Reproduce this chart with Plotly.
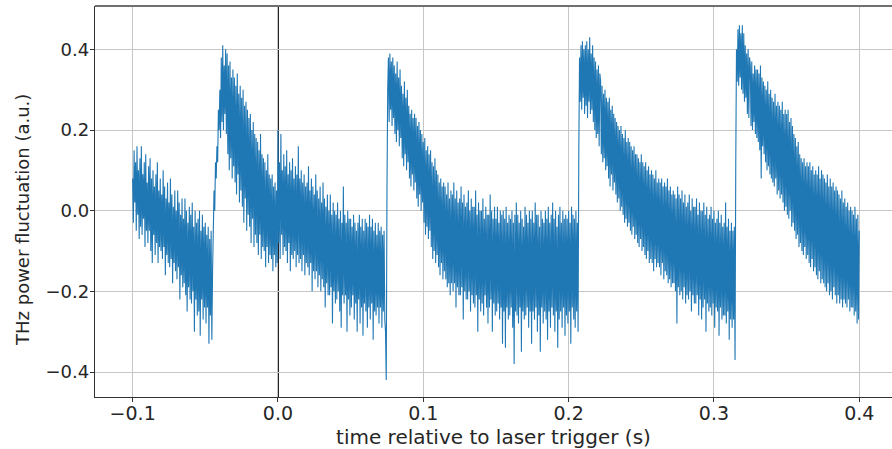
import numpy as np
import plotly.graph_objects as go

# Sampling grid of the recorded trace: 0.5 ms steps from 100 ms before the trigger
start_time_s = -0.100
sample_period_s = 0.0005

# THz power fluctuation, in units of 0.01 a.u., split by laser pulse cycle
before_pulse_1 = [
    8, -3, 15, 2, 12, -5, 16, -1, 10, -7,
    13, -4, 16, -6, 9, -2, 12, -9, 14, -5,
    7, -8, 11, -5, 13, -10, 8, -13, 10, -6,
    6, -11, 9, -8, 12, -13, 5, -9, 8, -10,
    4, -12, 10, -9, 6, -16, 3, -11, 7, -13,
    2, -14, 8, -12, 4, -18, 1, -13, 5, -15,
    0, -17, 5, -14, 2, -22, -1, -16, 3, -19,
    -2, -18, 3, -21, 0, -25, -3, -19, 1, -22,
    -1, -23, 2, -20, -4, -30, 0, -22, -3, -26,
    -2, -25, 0, -31, -5, -22, -1, -27, -4, -24,
    -3, -28, -6, -24, -4, -33, -7, -26, -5, -32,
]
pulse_1 = [
    -15, -5, 5, 0, 12, 8, 16, 12, 25, 20,
    30, 18, 38, 22, 41, 20, 36, 24, 40, 19,
    39, 14, 36, 10, 37, 13, 33, 8, 35, 11,
    33, 7, 31, 4, 34, 9, 29, 2, 31, 5,
    28, 1, 30, -3, 26, 3, 27, -5, 25, -1,
    23, -4, 24, -8, 20, -2, 22, -9, 19, -6,
    18, -8, 17, -11, 15, -6, 19, -12, 14, -9,
    13, -10, 12, -14, 10, -9, 14, -13, 9, -11,
    8, -12, 9, -15, 6, -11, 7, -14, 5, -13,
]
after_trigger = [
    20, -8, 12, -12, 19, -6, 10, -11, 14, -9,
    11, -10, 15, -13, 9, -8, 12, -15, 10, -11,
    13, -12, 8, -10, 11, -14, 9, -11, 16, -13,
    8, -12, 10, -15, 7, -11, 9, -16, 6, -13,
    7, -14, 11, -16, 5, -13, 8, -20, 6, -15,
    4, -17, 9, -15, 5, -19, 3, -16, 6, -20,
    2, -17, 7, -19, 3, -24, 1, -18, 4, -21,
    0, -21, 4, -19, -1, -28, 2, -20, 0, -23,
    -1, -22, 2, -20, -2, -25, 0, -29, -3, -21,
    6, -23, -1, -21, -3, -30, 0, -22, -2, -26,
    -2, -24, -4, -21, -1, -27, -3, -23, -5, -30,
    -3, -22, -1, -28, -4, -24, -2, -31, -5, -23,
    -2, -25, -3, -29, -4, -24, -1, -27,
    -4, -23, -2, -32, -5, -25, -3, -26, -6, -24,
    -3, -28, -5, -24, -4, -29, -6, -25, -5, -27,
    -30, -42,
]
pulse_2 = [
    5, 30, 38, 22, 39, 25, 37, 21, 38, 23,
    36, 19, 34, 17, 37, 20, 33, 16, 35, 18,
    31, 13, 29, 11, 32, 14, 28, 10, 30, 12,
    26, 8, 24, 6, 25, 9, 23, 5, 24, 7,
    23, 3, 21, 1, 22, 4, 20, 0, 19, 2,
    17, -3, 18, -6, 15, -4, 16, -7, 14, -5,
    15, -9, 12, -12, 11, -10, 13, -13, 10, -11,
    9, -14, 7, -16, 8, -13, 6, -17, 7, -15,
    6, -17, 4, -19, 7, -18, 3, -21, 5, -18,
    4, -20, 7, -18, 3, -24, 5, -19, 2, -21,
    3, -21, 6, -19, 2, -27, 4, -20, 1, -22,
    2, -22, 5, -20, 0, -25, 3, -21, 1, -23,
    1, -24, 5, -21, -1, -30, 2, -22, 0, -25,
    0, -23, 3, -26, -2, -21, 1, -24, -1, -28,
    -1, -24, 4, -22, 0, -30, -2, -23, 1, -26,
    -2, -25, 1, -23, -3, -27, 0, -24, -1, -33,
    0, -25, -2, -34, 1, -24, -3, -27, -1, -26,
    -2, -24, 0, -29, -3, -38, -1, -25, 2, -26,
    -1, -28, -3, -24, 0, -35, -2, -25, -4, -27,
    1, -26, -1, -24, -3, -29, 0, -25,
    -2, -33, 0, -25, -3, -27, 2, -24, -1, -30,
    -1, -26, -4, -35, 0, -24, -2, -28, -3, -25,
    0, -27, -2, -32, 1, -25, -3, -29, -1, -24,
    2, -26, -2, -30, 0, -25, -4, -34, -1, -27,
    1, -25, -3, -29, 0, -24, -2, -31, -1, -26,
    -2, -28, 0, -25, -3, -33, 1, -24, -1, -27,
    -2, -29, 0, -25, -3, -30,
]
pulse_3 = [
    15, 38, 27, 41, 25, 42, 28, 40, 24, 41,
    26, 42, 23, 40, 27, 43, 24, 39, 25, 41,
    22, 38, 20, 37, 18, 35, 19, 36, 16, 34,
    32, 14, 31, 12, 29, 13, 30, 10, 28, 11,
    27, 8, 28, 6, 25, 9, 26, 5, 24, 7,
    23, 4, 22, 2, 21, 3, 20, 0, 21, 1,
    19, -1, 18, -3, 20, -2, 17, -4, 18, -3,
    17, -5, 16, -6, 15, -4, 16, -7, 14, -6,
    14, -8, 13, -9, 12, -7, 14, -10, 12, -9,
    11, -11, 12, -12, 10, -10, 11, -13, 9, -12,
    10, -13, 9, -15, 8, -12, 10, -14, 7, -13,
    8, -14, 7, -16, 8, -13, 6, -17, 7, -15,
    6, -16, 8, -18, 5, -17, 6, -19, 4, -18,
    5, -18, 4, -20, 3, -28, 6, -19, 4, -21,
    3, -20, 5, -22, 2, -19, 4, -23, 1, -21,
    2, -22, 4, -20, 0, -25, 3, -21, 1, -23,
    1, -23, 3, -21, -1, -26, 2, -22, 0, -27,
    0, -24, 2, -22, -1, -30, 1, -23, -2, -25,
    -1, -24, 1, -26, -2, -23, 0, -29, -3, -24,
    -2, -25, 0, -31, -3, -24, -1, -27, -4, -26,
    -3, -26, 2, -28, -4, -25, -2, -32, -5, -27,
    -3, -29, -5, -27, -4, -37,
]
pulse_4 = [
    12, 40, 32, 45, 31, 46, 33, 44, 30, 46,
    29, 44, 27, 41, 28, 39, 24, 40, 23, 38,
    36, 21, 37, 20, 34, 22, 36, 19, 35, 18,
    35, 17, 34, 15, 36, 8, 33, 16, 32, 14,
    31, 12, 30, 10, 32, 11, 29, 9, 30, 8,
    28, 7, 27, 6, 29, 8, 26, 4, 27, 5,
    26, 3, 25, 4, 27, 2, 24, 0, 25, 1,
    24, -1, 25, -2, 22, 0, 23, -4, 21, -3,
    19, -5, 18, -7, 16, -6, 17, -9, 14, -8,
    13, -10, 12, -11, 13, -9, 11, -12, 12, -11,
    11, -13, 12, -14, 10, -12, 11, -15, 9, -14,
    10, -16, 9, -17, 11, -15, 8, -18, 10, -17,
    9, -18, 8, -19, 7, -20, 9, -18, 6, -21,
    8, -20, 6, -22, 7, -19, 5, -21, 6, -23,
    5, -21, 4, -23, 3, -22, 5, -24, 2, -22,
    3, -23, 1, -24, 2, -22, 0, -25, 1, -24,
    0, -24, -1, -26, 1, -25, -2, -28, -1, -27,
    -5,
]

x_ticks = [-0.1, 0.0, 0.1, 0.2, 0.3, 0.4]
x_tick_labels = ["\u22120.1", "0.0", "0.1", "0.2", "0.3", "0.4"]
y_ticks = [-0.4, -0.2, 0.0, 0.2, 0.4]
y_tick_labels = ["\u22120.4", "\u22120.2", "0.0", "0.2", "0.4"]

power = 0.01 * np.concatenate([before_pulse_1, pulse_1, after_trigger,
                               pulse_2, pulse_3, pulse_4])
time_s = start_time_s + sample_period_s * np.arange(power.size)

text_color = "#262626"
font_family = "DejaVu Sans"

fig = go.Figure()
fig.add_trace(go.Scatter(
    x=time_s, y=power, mode="lines",
    line=dict(color="#1f77b4", width=1.1, simplify=False),
    hoverinfo="skip",
))

# laser trigger marker and top frame line
fig.add_shape(type="line", xref="x", yref="paper", x0=0, x1=0, y0=0, y1=1,
              line=dict(color="black", width=1.8), layer="between")
fig.add_shape(type="line", xref="paper", yref="paper", x0=0, x1=1, y0=1, y1=1,
              line=dict(color="#707070", width=2), layer="above")

# y-axis title
fig.add_annotation(
    text="THz power fluctuation (a.u.)", textangle=-90,
    xref="paper", yref="paper", x=(22 - 95) / 797, y=(397 - 220) / 391,
    xanchor="center", yanchor="middle", showarrow=False,
    font=dict(family=font_family, size=18, color=text_color),
)

axis_common = dict(
    showgrid=True, gridcolor="#c6c6c6", gridwidth=1,
    ticks="outside", ticklen=4, tickwidth=1, tickcolor="#333333",
    showline=True, linecolor="#333333", linewidth=1.4,
    zeroline=False,
)

fig.update_layout(
    width=892, height=449,
    margin=dict(l=95, r=0, t=6, b=52),
    plot_bgcolor="white", paper_bgcolor="white",
    showlegend=False,
    font=dict(family=font_family, size=18, color=text_color),
    xaxis=dict(
        range=[-0.1259, 0.4225],
        tickvals=x_ticks, ticktext=x_tick_labels,
        tickfont=dict(family=font_family, size=19, color=text_color),
        ticklabelstandoff=-5,
        title=dict(text="time relative to laser trigger (s)", standoff=6,
                   font=dict(family=font_family, size=20, color=text_color)),
        **axis_common,
    ),
    yaxis=dict(
        range=[-0.462, 0.5075],
        tickvals=y_ticks, ticktext=y_tick_labels,
        tickfont=dict(family=font_family, size=18, color=text_color),
        ticklabelstandoff=-3,
        **axis_common,
    ),
)

fig.write_html("out.html")
